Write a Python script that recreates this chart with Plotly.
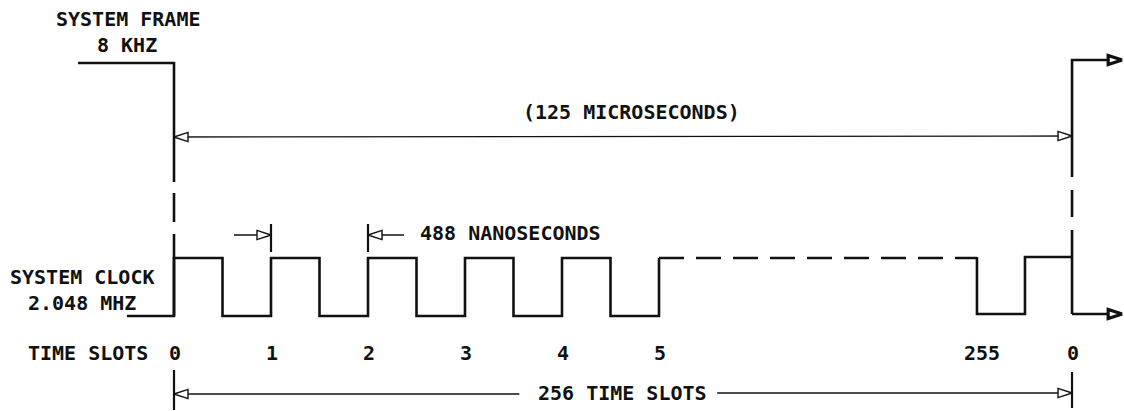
import plotly.graph_objects as go

# ---------------- data (time in clock-slot units, 0 = frame start) ----------------
slot_labels = ["0", "1", "2", "3", "4", "5", "255", "0"]
slot_pos = [0, 1, 2, 3, 4, 5, 8.32, 9.258]

clock_rise_solid = [0, 1, 2, 3, 4, 5]          # rising edges drawn explicitly
clock_lead_in = -0.485
slot255_fall = 8.278
slot255_rise = 8.773
frame_end = 9.258          # next frame start (slot 0 again)
frame_lead_in = -0.99
arrow_out = 9.775

span_125_text = "(125 MICROSECONDS)"
span_488_text = "488 NANOSECONDS"
span_256_text = "256 TIME SLOTS"

# vertical levels (page units, top = 0)
Y_FRAME_HI = 63
Y_CLK_HI = 258
Y_CLK_LO = 316
Y_125 = 137
Y_488 = 235
Y_LABEL = 353
Y_256 = 394

PX = 1 / 97.0   # one pixel in slot units (used for arrow-head size)
BLACK = "#111111"
FONT = dict(family="DejaVu Sans Mono", size=20, color=BLACK)

fig = go.Figure()


def line(xs, ys, width=2.6, dash=None):
    fig.add_trace(go.Scatter(x=xs, y=ys, mode="lines",
                             line=dict(color=BLACK, width=width, dash=dash),
                             hoverinfo="skip", showlegend=False))


def head(xt, yt, d, bold=False):
    L = 14 * PX
    h = 4.6
    xs = [xt, xt - d * L, xt - d * L, xt]
    ys = [yt, yt - h, yt + h, yt]
    fig.add_trace(go.Scatter(x=xs, y=ys, mode="lines", fill="toself",
                             fillcolor="white",
                             line=dict(color=BLACK, width=3.2 if bold else 1.4),
                             hoverinfo="skip", showlegend=False))


# ---------------- system frame signal ----------------
line([frame_lead_in, 0, 0], [Y_FRAME_HI, Y_FRAME_HI, 182])
line([0, 0, None, 0, 0], [193, 222, None, 234, Y_CLK_LO])
line([arrow_out - 8 * PX, frame_end, frame_end], [Y_FRAME_HI - 3, Y_FRAME_HI - 3, 177])
line([frame_end, frame_end, None, frame_end, frame_end], [190, 217, None, 230, Y_CLK_LO - 2])
head(arrow_out, Y_FRAME_HI - 3, 1, bold=True)

# ---------------- system clock signal ----------------
cx = [clock_lead_in, 0]
cy = [Y_CLK_LO, Y_CLK_LO]
for r in clock_rise_solid:
    if r == 0:
        cx += [0]
        cy += [Y_CLK_HI]
        continue
    cx += [r - 0.5, r - 0.5, r, r]
    cy += [Y_CLK_HI, Y_CLK_LO, Y_CLK_LO, Y_CLK_HI]
line(cx, cy)
line([clock_rise_solid[-1], slot255_fall], [Y_CLK_HI, Y_CLK_HI], dash="25px,12px")
line([slot255_fall, slot255_fall, slot255_rise, slot255_rise, frame_end],
     [Y_CLK_HI - 1, Y_CLK_LO - 2, Y_CLK_LO - 2, Y_CLK_HI - 1, Y_CLK_HI - 1])
line([frame_end, arrow_out - 8 * PX], [Y_CLK_LO - 2, Y_CLK_LO - 2])
head(arrow_out, Y_CLK_LO - 2, 1, bold=True)

# ---------------- 125 microsecond span ----------------
line([0, frame_end], [Y_125, Y_125 - 1], width=1.3)
head(0, Y_125, -1)
head(frame_end, Y_125 - 1, 1)

# ---------------- 488 ns (one slot) ----------------
line([1, 1], [224, 252], width=2.2)
line([2, 2], [224, 252], width=2.2)
line([1 - 37 * PX, 1], [Y_488, Y_488], width=1.3)
head(1, Y_488, 1)
line([2, 2 + 36 * PX], [Y_488, Y_488], width=1.3)
head(2, Y_488, -1)

# ---------------- 256 time slots span ----------------
line([0, 0], [370, 410], width=2.2)
line([frame_end, frame_end], [372, 408], width=2.2)
line([0, 3.56, None, 5.6, frame_end], [Y_256, Y_256, None, Y_256 - 1, Y_256 - 1], width=1.3)
head(0, Y_256, -1)
head(frame_end, Y_256 - 1, 1)

# ---------------- text ----------------
def text(x, y, s, anchor="center"):
    fig.add_annotation(x=x, y=y, text=s, showarrow=False, xanchor=anchor,
                       yanchor="middle", font=FONT)


text(-0.47, 19, "<b>SYSTEM FRAME</b>")
text(-0.48, 45, "<b>8 KHZ</b>")
text(4.72, 112, "<b>" + span_125_text + "</b>")
text(2 + 50 * PX, 233, "<b>" + span_488_text + "</b>", anchor="left")
text(-0.94, 277, "<b>SYSTEM CLOCK</b>")
text(-0.95, 303, "<b>2.048 MHZ</b>")
text(-0.887, Y_LABEL, "<b>TIME SLOTS</b>")
for p, s in zip(slot_pos, slot_labels):
    text(p + 0.01, Y_LABEL, "<b>" + s + "</b>")
text(4.62, Y_256 - 1, "<b>" + span_256_text + "</b>")

fig.update_layout(
    width=1124, height=411, autosize=False,
    margin=dict(l=0, r=0, t=0, b=0),
    paper_bgcolor="white", plot_bgcolor="white",
    xaxis=dict(range=[-174 / 97, 950 / 97], visible=False, fixedrange=True),
    yaxis=dict(range=[411, 0], visible=False, fixedrange=True),
    showlegend=False,
)

fig.write_html("out.html", config={"displayModeBar": False},
               post_script="document.body.style.margin='0';document.body.style.overflow='hidden';")
